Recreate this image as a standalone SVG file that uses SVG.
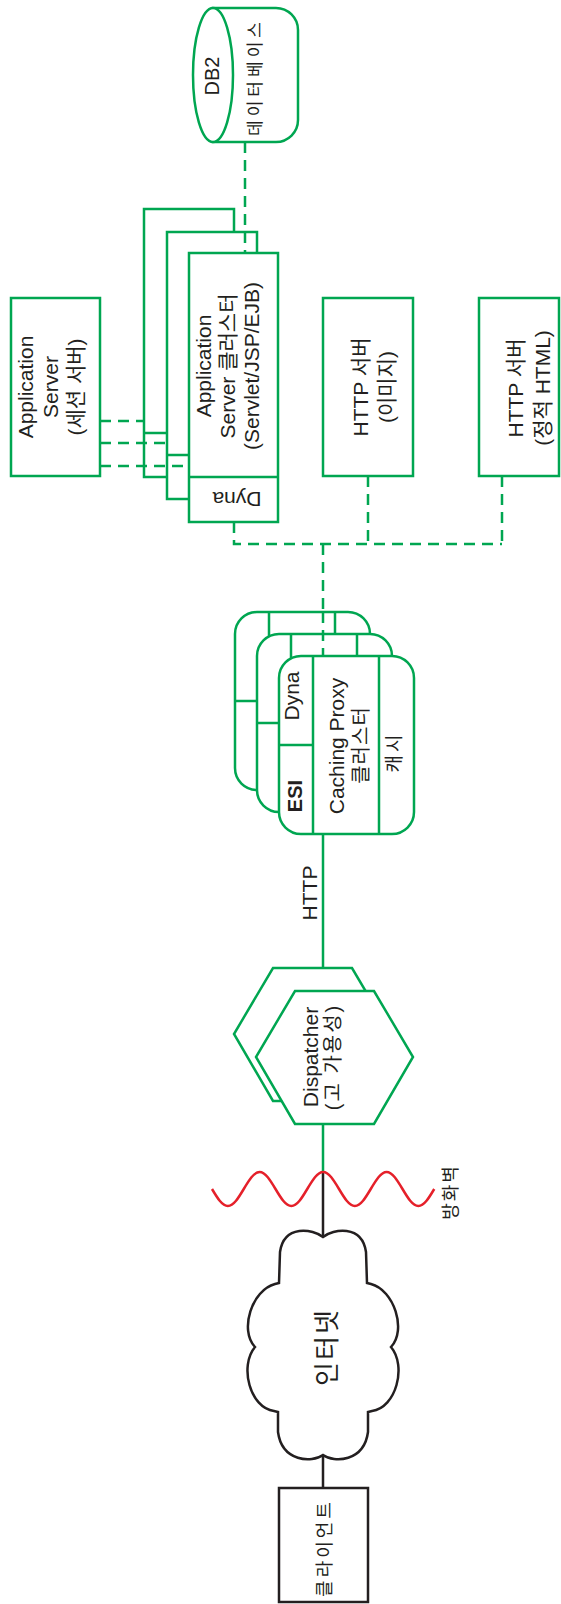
<svg xmlns="http://www.w3.org/2000/svg" width="561" height="1604" viewBox="0 0 561 1604">
<style>
.g{fill:#fff;stroke:#00a651;stroke-width:2.5}
.gl{fill:none;stroke:#00a651;stroke-width:2.5}
.k{fill:#fff;stroke:#231f20;stroke-width:2.5}
.kl{fill:none;stroke:#231f20;stroke-width:2.5}
.d{fill:none;stroke:#00a651;stroke-width:2.5;stroke-dasharray:11 7}
text{font-family:"Liberation Sans","Noto Sans CJK KR",sans-serif;fill:#231f20;font-size:21px;text-anchor:middle}
.ko{font-size:18px;letter-spacing:3px}
</style>
<rect width="561" height="1604" fill="#fff"/>

<g id="db2">
<path class="g" d="M213,8 H276 A22,22 0 0 1 298,30 V120 A22,22 0 0 1 276,142 H213 Z"/>
<ellipse class="g" cx="213" cy="75" rx="20" ry="67"/>
<text transform="translate(219,76) rotate(-90)" style="font-size:20px">DB2</text>
<text transform="translate(261,77) rotate(-90)" style="font-size:17px;letter-spacing:4px">데이터베이스</text>
</g>

<g id="session-server">
<rect class="g" x="11" y="298" width="89" height="178"/>
<text transform="translate(33,387) rotate(-90)">Application</text>
<text transform="translate(58,387) rotate(-90)">Server</text>
<text transform="translate(83,387) rotate(-90)">(세션 서버)</text>
</g>

<g id="app-cluster">
<rect class="g" x="144" y="209" width="90" height="268"/>
<line class="gl" x1="144" y1="433" x2="234" y2="433"/>
<rect class="g" x="167" y="232" width="90" height="267"/>
<line class="gl" x1="167" y1="455" x2="257" y2="455"/>
<rect class="g" x="189" y="253" width="89" height="269"/>
<line class="gl" x1="189" y1="477" x2="278" y2="477"/>
<text transform="translate(211,366) rotate(-90)">Application</text>
<text transform="translate(235,366) rotate(-90)">Server 클러스터</text>
<text transform="translate(259,366) rotate(-90)">(Servlet/JSP/EJB)</text>
<text transform="translate(237,492) rotate(180)">Dyna</text>
</g>

<g id="http-image">
<rect class="g" x="323" y="298" width="90" height="178"/>
<text transform="translate(368,387) rotate(-90)">HTTP 서버</text>
<text transform="translate(394,387) rotate(-90)">(이미지)</text>
</g>

<g id="http-html">
<rect class="g" x="479" y="298" width="80" height="178"/>
<text transform="translate(523,388) rotate(-90)">HTTP 서버</text>
<text transform="translate(550,388) rotate(-90)">(정적 HTML)</text>
</g>

<g id="connectors">
<path class="d" d="M245,142 V253"/>
<path class="d" d="M100,421 H144 M100,443 H167 M100,466 H189"/>
<path class="d" d="M234,522 V544 H502 M368,476 V544 M502,476 V544 M323,544 V656"/>
<path class="gl" d="M323,834 V968 M323,1124 V1172"/>
<path class="kl" d="M323,1172 V1237 M323,1455 V1488"/>
</g>

<g id="proxy-cluster">
<rect class="g" x="235" y="612" width="135" height="178" rx="22"/>
<path class="gl" d="M269,612 V790 M335,612 V790 M235,701 H269"/>
<rect class="g" x="257" y="634" width="135" height="178" rx="22"/>
<path class="gl" d="M291,634 V812 M357,634 V812 M257,723 H291"/>
<rect class="g" x="279" y="656" width="135" height="178" rx="22"/>
<path class="gl" d="M313,656 V834 M379,656 V834 M279,745 H313"/>
<text transform="translate(299,696) rotate(-90)">Dyna</text>
<text transform="translate(302,796) rotate(-90)" style="font-weight:bold;font-size:20px">ESI</text>
<text transform="translate(344,746) rotate(-90)">Caching Proxy</text>
<text transform="translate(368,745) rotate(-90)" style="font-size:20px;letter-spacing:1px">클러스터</text>
<text transform="translate(401,752) rotate(-90)" style="font-size:19px;letter-spacing:3px">캐시</text>
</g>
<path class="d" d="M323,612 V656"/>

<g id="http-label">
<text transform="translate(317,893) rotate(-90)">HTTP</text>
</g>

<g id="dispatcher">
<polygon class="g" points="273,968 352,968 391,1034 352,1101 273,1101 234,1034"/>
<polygon class="g" points="295,991 374,991 413,1057 374,1124 295,1124 256,1057"/>
<text transform="translate(318,1057) rotate(-90)">Dispatcher</text>
<text transform="translate(340,1057) rotate(-90)" style="font-size:20px;letter-spacing:2px">(고 가용성)</text>
</g>

<g id="firewall">
<path fill="none" stroke="#e5202a" stroke-width="2.5" d="M212,1189 c5.18,8.71 10.13,17 15.875,17 c5.745,0 10.695,-8.29 15.875,-17 c5.18,-8.71 10.13,-17 15.875,-17 c5.745,0 10.695,8.29 15.875,17 c5.18,8.71 10.13,17 15.875,17 c5.745,0 10.695,-8.29 15.875,-17 c5.18,-8.71 10.13,-17 15.875,-17 c5.745,0 10.695,8.29 15.875,17 c5.18,8.71 10.13,17 15.875,17 c5.745,0 10.695,-8.29 15.875,-17 c5.18,-8.71 10.13,-17 15.875,-17 c5.745,0 10.695,8.29 15.875,17 c5.18,8.71 10.13,17 15.875,17 c5.745,0 10.695,-8.29 15.875,-17"/>
<text transform="translate(457,1192) rotate(-90)" class="ko" style="letter-spacing:2px">방화벽</text>
</g>

<g id="internet">
<path class="k" d="M323,1237 C333,1229 362,1224 366,1252 L367,1283 L371,1284 C394,1290 407,1330 391,1347 C407,1366 396,1408 372,1411 L368,1412 L368,1432 C364,1462 334,1463 323,1455 C312,1463 282,1462 278,1432 L278,1412 L274,1411 C250,1408 239,1366 255,1347 C239,1330 252,1290 275,1284 L279,1283 L280,1252 C284,1224 313,1229 323,1237 Z"/>
<text transform="translate(336,1347) rotate(-90)" style="font-size:26px;letter-spacing:2px">인터넷</text>
</g>

<g id="client">
<rect class="k" x="279" y="1488" width="89" height="114"/>
<text transform="translate(331,1548) rotate(-90)" class="ko">클라이언트</text>
</g>
</svg>
